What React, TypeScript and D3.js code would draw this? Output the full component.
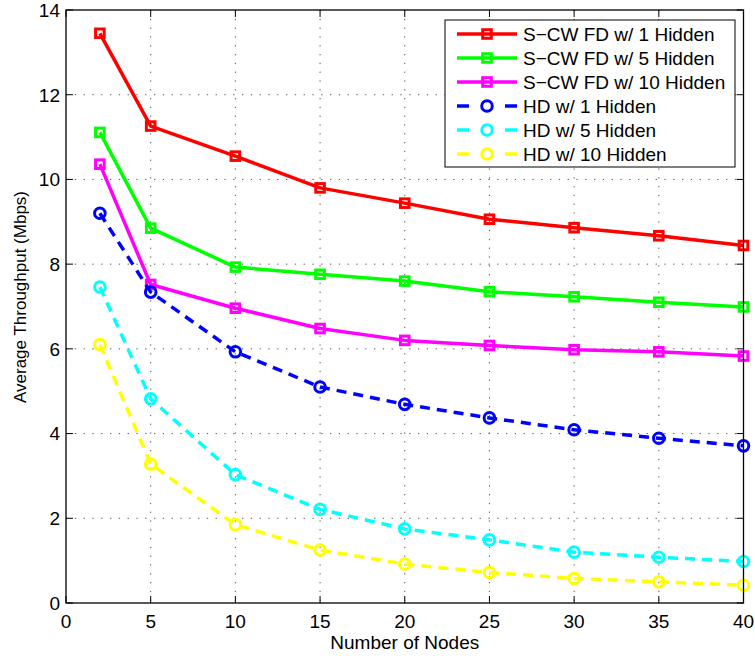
import React from "react";
import * as d3 from "d3";

// Network sizes on the horizontal axis
const nodes = [2, 5, 10, 15, 20, 25, 30, 35, 40];

// Average throughput (Mbps) for each scheme
const fd1 = [13.45, 11.26, 10.55, 9.8, 9.44, 9.06, 8.86, 8.67, 8.44];
const fd5 = [11.11, 8.85, 7.93, 7.76, 7.6, 7.35, 7.23, 7.1, 6.99];
const fd10 = [10.36, 7.52, 6.96, 6.48, 6.2, 6.08, 5.98, 5.93, 5.83];
const hd1 = [9.2, 7.34, 5.93, 5.1, 4.69, 4.37, 4.09, 3.89, 3.71];
const hd5 = [7.46, 4.82, 3.03, 2.21, 1.75, 1.49, 1.2, 1.08, 0.98];
const hd10 = [6.1, 3.28, 1.85, 1.25, 0.92, 0.72, 0.58, 0.5, 0.42];

const seriesNames = [
  "S\u2212CW FD w/ 1 Hidden",
  "S\u2212CW FD w/ 5 Hidden",
  "S\u2212CW FD w/ 10 Hidden",
  "HD w/ 1 Hidden",
  "HD w/ 5 Hidden",
  "HD w/ 10 Hidden",
];
const seriesValues = [fd1, fd5, fd10, hd1, hd5, hd10];
const seriesColors = ["#ff0000", "#00ff00", "#ff00ff", "#0000ff", "#00ffff", "#ffff00"];
const seriesDashed = [false, false, false, true, true, true];

const xTicks = [0, 5, 10, 15, 20, 25, 30, 35, 40];
const yTicks = [0, 2, 4, 6, 8, 10, 12, 14];

const W = 755;
const H = 658;
const M = { left: 66, top: 10, right: 743.5, bottom: 603 };
const FONT = "'Liberation Sans', Arial, Helvetica, sans-serif";
const TICK = 7;
const LW = 3.5;
const DASH = "10 7";

export default function App() {
  const x = d3.scaleLinear().domain([0, 40]).range([M.left, M.right]);
  const y = d3.scaleLinear().domain([0, 14]).range([M.bottom, M.top]);
  const line = d3
    .line<number>()
    .x((_, i) => x(nodes[i]))
    .y((v) => y(v));

  const gridColor = "#555";
  const gridDash = "1.3 7.5";

  // Legend layout
  const lg = { x: 445, y: 20, w: 290, h: 147, row: 24, first: 34 };
  const sampleL = 457;
  const sampleR = 517;
  const sampleMid = (sampleL + sampleR) / 2;

  const marker = (k: number, cx: number, cy: number, key: string) => {
    const c = seriesColors[k];
    if (seriesDashed[k]) {
      return <circle key={key} cx={cx} cy={cy} r={5.3} fill="none" stroke={c} strokeWidth={3} />;
    }
    const s = 8.6;
    return (
      <rect key={key} x={cx - s / 2} y={cy - s / 2} width={s} height={s} fill="none" stroke={c} strokeWidth={3} />
    );
  };

  return (
    <svg
      width={W}
      height={H}
      viewBox={`0 0 ${W} ${H}`}
      style={{ position: "absolute", left: 0, top: 0, background: "#fff" }}
      fontFamily={FONT}
    >
      <rect x={0} y={0} width={W} height={H} fill="#fff" />

      {/* grid */}
      <g>
        {xTicks.slice(1, -1).map((t) => (
          <line key={"gx" + t} x1={x(t)} x2={x(t)} y1={M.top} y2={M.bottom} stroke={gridColor} strokeWidth={1} strokeDasharray={gridDash} />
        ))}
        {yTicks.slice(1, -1).map((t) => (
          <line key={"gy" + t} x1={M.left} x2={M.right} y1={y(t)} y2={y(t)} stroke={gridColor} strokeWidth={1} strokeDasharray={gridDash} />
        ))}
      </g>

      {/* ticks, inward on all four sides */}
      <g stroke="#000" strokeWidth={1}>
        {xTicks.map((t) => (
          <g key={"tx" + t}>
            <line x1={x(t)} x2={x(t)} y1={M.bottom} y2={M.bottom - TICK} />
            <line x1={x(t)} x2={x(t)} y1={M.top} y2={M.top + TICK} />
          </g>
        ))}
        {yTicks.map((t) => (
          <g key={"ty" + t}>
            <line x1={M.left} x2={M.left + TICK} y1={y(t)} y2={y(t)} />
            <line x1={M.right} x2={M.right - TICK} y1={y(t)} y2={y(t)} />
          </g>
        ))}
      </g>

      {/* series */}
      <g>
        {seriesValues.map((vals, k) => (
          <g key={"s" + k}>
            <path
              d={line(vals) || ""}
              fill="none"
              stroke={seriesColors[k]}
              strokeWidth={LW}
              strokeDasharray={seriesDashed[k] ? DASH : undefined}
              strokeLinejoin="round"
            />
            {vals.map((v, i) => marker(k, x(nodes[i]), y(v), `m${k}-${i}`))}
          </g>
        ))}
      </g>

      {/* axes box */}
      <rect x={M.left} y={M.top} width={M.right - M.left} height={M.bottom - M.top} fill="none" stroke="#000" strokeWidth={1.3} />

      {/* tick labels */}
      <g fontSize={19} fill="#000">
        {xTicks.map((t) => (
          <text key={"lx" + t} x={x(t)} y={627.5} textAnchor="middle">
            {t}
          </text>
        ))}
        {yTicks.map((t) => (
          <text key={"ly" + t} x={60} y={y(t) + 6.8} textAnchor="end">
            {t}
          </text>
        ))}
      </g>

      {/* axis titles */}
      <text x={(M.left + M.right) / 2} y={649} textAnchor="middle" fontSize={19}>
        Number of Nodes
      </text>
      <text transform="translate(25.5, 297) rotate(-90)" textAnchor="middle" fontSize={17}>
        Average Throughput (Mbps)
      </text>

      {/* legend */}
      <g>
        <rect x={lg.x} y={lg.y} width={lg.w} height={lg.h} fill="#fff" stroke="#000" strokeWidth={1} />
        {seriesNames.map((name, k) => {
          const cy = lg.first + k * lg.row;
          return (
            <g key={"lg" + k}>
              {seriesDashed[k] ? (
                <>
                  <line x1={sampleL} x2={sampleL + 12} y1={cy} y2={cy} stroke={seriesColors[k]} strokeWidth={LW} />
                  <line x1={sampleR - 12} x2={sampleR} y1={cy} y2={cy} stroke={seriesColors[k]} strokeWidth={LW} />
                </>
              ) : (
                <line x1={sampleL} x2={sampleR} y1={cy} y2={cy} stroke={seriesColors[k]} strokeWidth={LW} />
              )}
              {marker(k, sampleMid, cy, "lm" + k)}
              <text x={523} y={cy + 6.8} fontSize={19}>
                {name}
              </text>
            </g>
          );
        })}
      </g>
    </svg>
  );
}
